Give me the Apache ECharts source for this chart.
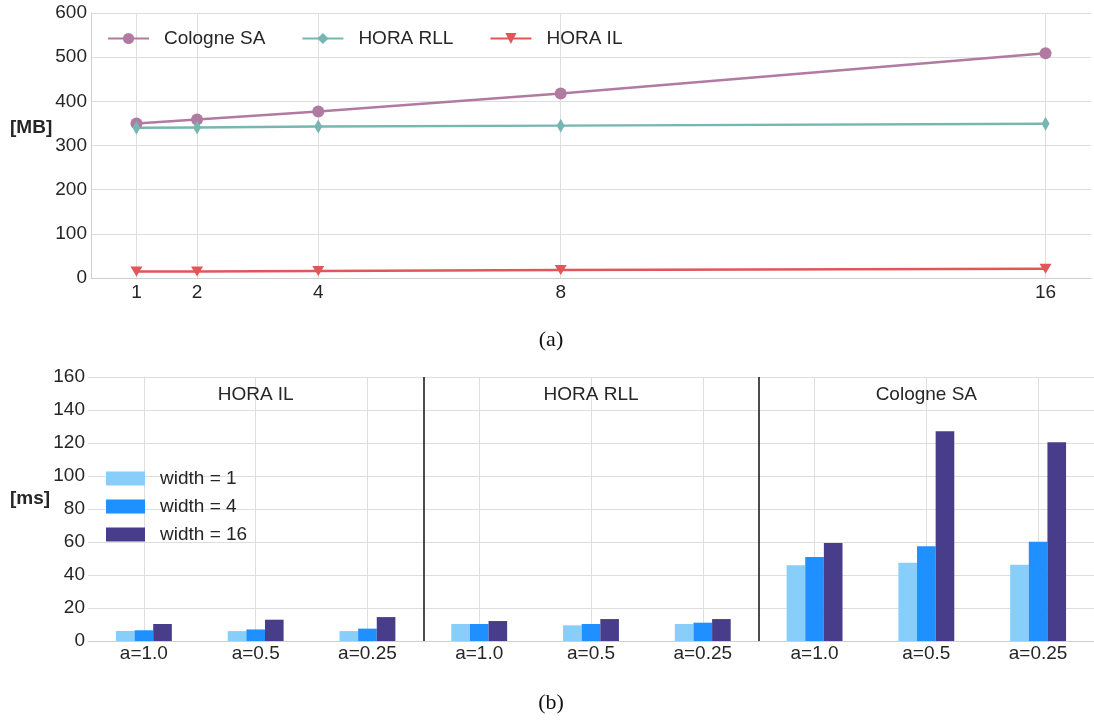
<!DOCTYPE html>
<html>
<head>
<meta charset="utf-8">
<script src="https://cdn.jsdelivr.net/npm/echarts@6/dist/echarts.min.js"></script>
<style>
html,body{margin:0;padding:0;background:#fff;}
#c{width:1094px;height:720px;}
</style>
</head>
<body>
<div id="c"></div>
<script>
// ---- Chart (a): memory [MB] vs. width ----
const xTicks = [1, 2, 4, 8, 16];
const cologneSA = [350, 359, 377, 418, 509];
const horaRLL = [340, 341, 343, 345, 349];
const horaIL = [15, 15, 16, 18, 21];
const lineNames = ['Cologne SA', 'HORA RLL', 'HORA IL'];

// ---- Chart (b): time [ms] per algorithm and alpha ----
const groups = ['HORA IL', 'HORA RLL', 'Cologne SA'];
const alphas = ['a=1.0', 'a=0.5', 'a=0.25'];
const widthNames = ['width = 1', 'width = 4', 'width = 16'];
const width1 = [6.1, 6.0, 6.0, 10.3, 9.5, 10.3, 45.9, 47.5, 46.2];
const width4 = [6.5, 7.0, 7.5, 10.3, 10.3, 11.1, 50.9, 57.4, 60.2];
const width16 = [10.3, 12.9, 14.5, 12.1, 13.3, 13.3, 59.4, 127.1, 120.4];

const categories = [];
groups.forEach(() => alphas.forEach(a => categories.push(a)));

const TXT = '#262626';
const GRID = '#dedede';
const AX = '#cfcfcf';
const FONT = '"Liberation Sans", Arial, Helvetica, sans-serif';

const chart = echarts.init(document.getElementById('c'));

const lineColors = ['#B07AA1', '#76B7B2', '#E15759'];
const lineData = [cologneSA, horaRLL, horaIL];
const lineSymbols = ['circle', 'diamond', 'triangle'];
const lineSymbolSizes = [12, [8, 14], [12, 10]];
const lineRot = [0, 0, 180];

const series = [];

// vertical grid lines for chart (a)
series.push({
  type: 'line', xAxisIndex: 0, yAxisIndex: 0, data: [], z: 1, silent: true,
  markLine: {
    z: 1, silent: true, symbol: 'none', label: {show: false}, animation: false,
    lineStyle: {color: GRID, width: 1, type: 'solid'},
    data: xTicks.map(v => ({xAxis: v}))
  }
});

lineNames.forEach((n, i) => {
  series.push({
    name: n, type: 'line', xAxisIndex: 0, yAxisIndex: 0,
    data: xTicks.map((x, j) => [x, lineData[i][j]]),
    symbol: lineSymbols[i], symbolSize: lineSymbolSizes[i], symbolRotate: lineRot[i],
    showAllSymbol: true,
    lineStyle: {color: lineColors[i], width: 2.5},
    itemStyle: {color: lineColors[i]},
    z: 3
  });
});

// vertical grid lines + separators for chart (b)
series.push({
  type: 'line', xAxisIndex: 2, yAxisIndex: 1, data: [], z: 1, silent: true,
  markLine: {
    z: 1, silent: true, symbol: 'none', label: {show: false}, animation: false,
    data: categories.map((c, i) => ({xAxis: i, lineStyle: {color: GRID, width: 1, type: 'solid'}}))
      .concat(groups.slice(1).map((g, i) => ({xAxis: (i + 1) * alphas.length - 0.5,
        lineStyle: {color: '#111', width: 1.5, type: 'solid'}})))
  }
});

const barColors = ['#87CEFA', '#1E90FF', '#483D8B'];
const barData = [width1, width4, width16];
widthNames.forEach((n, i) => {
  series.push({
    name: n, type: 'bar', xAxisIndex: 1, yAxisIndex: 1,
    data: barData[i], barGap: '0%', barCategoryGap: '50%',
    itemStyle: {color: barColors[i]}, z: 3
  });
});

const option = {
  animation: false,
  backgroundColor: '#fff',
  textStyle: {fontFamily: FONT, color: TXT},
  grid: [
    {left: 91, top: 13, width: 1010, height: 265},
    {left: 88, top: 377, width: 1012, height: 264}
  ],
  xAxis: [
    {gridIndex: 0, type: 'value', min: 0.25, max: 16.75, interval: 0.25,
      axisLine: {show: true, lineStyle: {color: AX, width: 1}},
      axisTick: {show: false}, splitLine: {show: false},
      axisLabel: {fontSize: 19, color: TXT, margin: 5, fontFamily: FONT,
        formatter: v => (xTicks.indexOf(v) >= 0 ? String(v) : '')}},
    {gridIndex: 1, type: 'category', data: categories,
      axisLine: {show: true, lineStyle: {color: AX, width: 1}},
      axisTick: {show: false}, splitLine: {show: false},
      axisLabel: {fontSize: 19, color: TXT, margin: 3, interval: 0, fontFamily: FONT}},
    {gridIndex: 1, type: 'value', min: -0.5, max: 8.5, show: false,
      splitLine: {show: false}}
  ],
  yAxis: [
    {gridIndex: 0, type: 'value', min: 0, max: 600, interval: 100,
      axisLine: {show: true, lineStyle: {color: AX, width: 1}},
      axisTick: {show: false},
      splitLine: {show: true, lineStyle: {color: GRID, width: 1}},
      axisLabel: {fontSize: 19, color: TXT, margin: 4, fontFamily: FONT}},
    {gridIndex: 1, type: 'value', min: 0, max: 160, interval: 20,
      axisLine: {show: true, lineStyle: {color: AX, width: 1}},
      axisTick: {show: false},
      splitLine: {show: true, lineStyle: {color: GRID, width: 1}},
      axisLabel: {fontSize: 19, color: TXT, margin: 3, fontFamily: FONT}}
  ],
  legend: [
    {data: lineNames, left: 102, top: 24, orient: 'horizontal',
      itemWidth: 41, itemHeight: 14, itemGap: 36,
      textStyle: {fontSize: 19, color: TXT, fontFamily: FONT, padding: [0, 0, 0, 10]}},
    {data: widthNames, left: 101, top: 464, orient: 'vertical',
      itemWidth: 39, itemHeight: 14, itemGap: 9, icon: 'rect',
      textStyle: {fontSize: 19, color: TXT, fontFamily: FONT, padding: [0, 0, 0, 10]}}
  ],
  graphic: [
    {type: 'text', left: 10, top: 118, style: {text: '[MB]', fill: TXT, font: 'bold 19px ' + FONT}},
    {type: 'text', left: 10, top: 489, style: {text: '[ms]', fill: TXT, font: 'bold 19px ' + FONT}},
    {type: 'text', x: 551, y: 340, style: {text: '(a)', font: '22px "Liberation Serif", "DejaVu Serif", serif', fill: '#111', align: 'center', verticalAlign: 'middle'}},
    {type: 'text', x: 551, y: 703, style: {text: '(b)', font: '22px "Liberation Serif", "DejaVu Serif", serif', fill: '#111', align: 'center', verticalAlign: 'middle'}}
  ],
  series: series
};

chart.setOption(option);

// group titles of chart (b), placed through the chart's own scales
const titleGraphics = groups.map((g, i) => {
  const p = chart.convertToPixel({xAxisIndex: 2, yAxisIndex: 1}, [i * alphas.length + 1, 160]);
  return {type: 'text', id: 'gt' + i, x: p[0], y: p[1] + 18, z: 10,
    style: {text: g, fill: TXT, font: '19px ' + FONT, align: 'center', verticalAlign: 'middle'}};
});
chart.setOption({graphic: titleGraphics});
</script>
</body>
</html>
